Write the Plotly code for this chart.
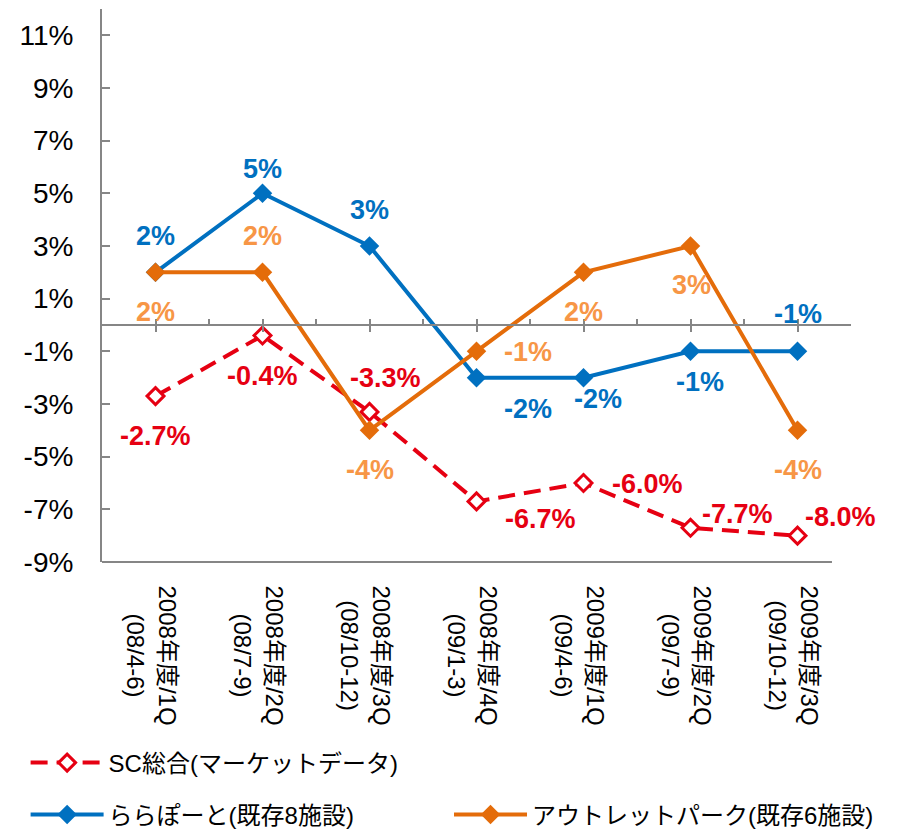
import plotly.graph_objects as go

# Quarter labels (fiscal year / quarter, calendar months)
categories = [
    "2008年度/1Q<br>(08/4-6)",
    "2008年度/2Q<br>(08/7-9)",
    "2008年度/3Q<br>(08/10-12)",
    "2008年度/4Q<br>(09/1-3)",
    "2009年度/1Q<br>(09/4-6)",
    "2009年度/2Q<br>(09/7-9)",
    "2009年度/3Q<br>(09/10-12)",
]

# Year-on-year change, %
sc_total = [-2.7, -0.4, -3.3, -6.7, -6.0, -7.7, -8.0]
lalaport = [2, 5, 3, -2, -2, -1, -1]
outlet = [2, 2, -4, -1, 2, 3, -4]

y_ticks = [-9, -7, -5, -3, -1, 1, 3, 5, 7, 9, 11]

# label offsets in pixels (dx, dy screen-down) per point
SC_OFF = [(0, 40), (0, 40), (16, -34), (64, 18), (64, 1), (47, -14), (43, -19)]
LALA_OFF = [(0, -36), (0, -24), (0, -36), (51, 31), (14, 21), (9, 31), (0, -37)]
OUT_OFF = [(0, 40), (0, -36), (0, 40), (51, 1), (0, 40), (1, 39), (0, 40)]

RED = "#E60012"
BLUE = "#0070C0"
ORANGE = "#E46C0A"
ORANGE_TXT = "#F79646"
AXIS = "#868686"
FONT = "Liberation Sans, Arial, Noto Sans CJK JP, sans-serif"

fig = go.Figure()

fig.add_trace(go.Scatter(
    x=categories, y=sc_total, mode="lines+markers",
    name="SC総合(マーケットデータ)", legend="legend",
    line=dict(color=RED, width=4, dash="17px,9px"),
    marker=dict(symbol="diamond", size=13, color="white",
                line=dict(color=RED, width=3)),
))
fig.add_trace(go.Scatter(
    x=categories, y=lalaport, mode="lines+markers",
    name="ららぽーと(既存8施設)", legend="legend2",
    line=dict(color=BLUE, width=4),
    marker=dict(symbol="diamond", size=15, color=BLUE),
))
fig.add_trace(go.Scatter(
    x=categories, y=outlet, mode="lines+markers",
    name="アウトレットパーク(既存6施設)", legend="legend3",
    line=dict(color=ORANGE, width=4),
    marker=dict(symbol="diamond", size=15, color=ORANGE),
))

# dummy traces so the zero-line axes get drawn
for ax in ["x2", "x3"]:
    fig.add_trace(go.Scatter(x=[None], y=[None], xaxis=ax, showlegend=False,
                             hoverinfo="skip"))


def add_labels(values, offsets, color, fmt):
    for cat, v, (dx, dy) in zip(categories, values, offsets):
        fig.add_annotation(
            x=cat, y=v, text=fmt.format(v), showarrow=False,
            xshift=dx, yshift=-dy,
            font=dict(family=FONT, size=27, color=color, weight="bold"),
        )


add_labels(sc_total, SC_OFF, RED, "{:.1f}%")
add_labels(lalaport, LALA_OFF, BLUE, "{:.0f}%")
add_labels(outlet, OUT_OFF, ORANGE_TXT, "{:.0f}%")

# rotated category labels, lines centred like the original
for cat in categories:
    fig.add_annotation(
        x=cat, y=0, xref="x", yref="paper", text=cat, showarrow=False,
        textangle=90, align="center", yanchor="top", xanchor="center",
        xshift=-4, yshift=-21,
        font=dict(family=FONT, size=24, color="black"),
    )

zero_pos = (0 - (-9)) / (12 - (-9))

legend_style = dict(xanchor="left", yanchor="middle", orientation="h",
                    itemwidth=73, font=dict(size=24), bgcolor="rgba(0,0,0,0)")

# page body has an 8px margin, so the figure is 8px smaller than the window
fig.update_layout(
    width=889, height=824,
    margin=dict(l=94, r=46, t=1, b=270, autoexpand=False),
    paper_bgcolor="white", plot_bgcolor="white",
    font=dict(family=FONT, size=23, color="black"),
    xaxis=dict(
        type="category", range=[-0.5, 6.5], showgrid=False, zeroline=False,
        showline=False, ticks="", showticklabels=False,
    ),
    xaxis2=dict(
        overlaying="x", anchor="free", position=zero_pos, range=[-0.5, 6.5],
        tickvals=[0, 1, 2, 3, 4, 5, 6], ticks="outside", ticklen=6,
        tickwidth=2, tickcolor=AXIS, showline=True, linecolor=AXIS,
        linewidth=2, showticklabels=False, showgrid=False, zeroline=False,
    ),
    xaxis3=dict(
        overlaying="x", anchor="free", position=zero_pos, range=[-0.5, 6.5],
        tickvals=[-0.5, 0, 0.5, 1, 1.5, 2, 2.5, 3, 3.5, 4, 4.5, 5, 5.5, 6, 6.5],
        ticks="inside", ticklen=6, tickwidth=2, tickcolor=AXIS,
        showline=False, showticklabels=False, showgrid=False, zeroline=False,
    ),
    yaxis=dict(
        range=[-9, 12], tickvals=y_ticks, ticktext=[f"{t}%" for t in y_ticks],
        ticks="inside", ticklen=8, tickwidth=2, tickcolor=AXIS,
        showline=True, linecolor=AXIS, linewidth=2, showgrid=False,
        zeroline=False, ticklabelstandoff=21, tickfont=dict(size=28),
    ),
    legend=dict(x=-0.102, y=-0.3635, **legend_style),
    legend2=dict(x=-0.102, y=-0.4575, **legend_style),
    legend3=dict(x=0.4633, y=-0.4575, **legend_style),
    shapes=[dict(type="line", xref="paper", yref="paper", x0=0, x1=0.9746,
                 y0=0, y1=0, line=dict(color=AXIS, width=2))],
)

fig.write_html("out.html")
